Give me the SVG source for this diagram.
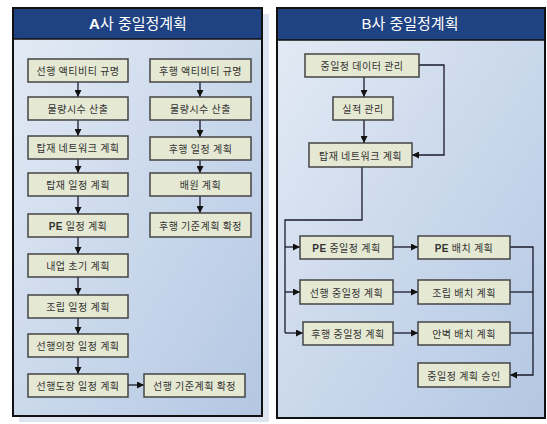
<svg xmlns="http://www.w3.org/2000/svg" width="547" height="424" viewBox="0 0 547 424">
<defs>
<linearGradient id="body" x1="0" y1="0" x2="1" y2="1">
<stop offset="0" stop-color="#e4ebf5"/>
<stop offset="1" stop-color="#b3c7e3"/>
</linearGradient>
<marker id="ah" viewBox="0 0 10 10" refX="10" refY="5" markerWidth="7" markerHeight="7" orient="auto" markerUnits="userSpaceOnUse">
<path d="M0,0 L10,5 L0,10 z" fill="#111"/>
</marker>
<style>
.panel{fill:url(#body);stroke:#111;stroke-width:2}
.head{fill:#1f4283}
.title{font-family:"Liberation Sans","Noto Sans CJK KR",sans-serif;font-size:15px;fill:#fff;text-anchor:middle}
.node rect{fill:#e5e8d2;stroke:#444;stroke-width:1.5}
.node text{font-family:"Noto Sans CJK KR","Noto Sans",sans-serif;font-size:10px;fill:#333;text-anchor:middle;dominant-baseline:central;letter-spacing:0.5px}
.c{fill:none;stroke:#1a1a2a;stroke-width:1.3}
.a{marker-end:url(#ah)}
</style>
</defs>
<rect width="547" height="424" fill="#fff"/>
<!-- Panel A -->
<g id="panelA">
<rect x="19" y="14" width="250" height="408" fill="#dfe5f0"/>
<rect class="panel" x="13" y="8" width="249" height="408"/>
<rect class="head" x="14" y="9" width="247" height="30"/>
<line x1="13" y1="39" x2="262" y2="39" stroke="#111" stroke-width="1.5"/>
<text class="title" x="138" y="29"><tspan font-weight="bold">A</tspan>사 중일정계획</text>
</g>
<!-- Panel B -->
<g id="panelB">
<rect class="panel" x="277" y="8" width="268" height="410"/>
<rect class="head" x="278" y="9" width="266" height="31"/>
<line x1="277" y1="40" x2="545" y2="40" stroke="#111" stroke-width="1.5"/>
<text class="title" x="410" y="29">B사 중일정계획</text>
</g>
<!-- Connectors -->
<g id="connectors">
<path class="c a" d="M78,82 V97"/>
<path class="c a" d="M78,120 V136"/>
<path class="c a" d="M78,159 V173"/>
<path class="c a" d="M78,196 V214"/>
<path class="c a" d="M78,237 V254"/>
<path class="c a" d="M78,277 V295"/>
<path class="c a" d="M78,318 V334"/>
<path class="c a" d="M78,357 V374"/>
<path class="c a" d="M128,385 H144"/>
<path class="c a" d="M200,82 V97"/>
<path class="c a" d="M200,120 V137"/>
<path class="c a" d="M200,160 V173"/>
<path class="c a" d="M200,196 V213"/>
<path class="c a" d="M364,77 V97"/>
<path class="c a" d="M364,120 V143"/>
<path class="c a" d="M419,65 H444 V155 H412"/>
<path class="c" d="M362,167 V220 H285 V333"/>
<path class="c a" d="M285,247 H300"/>
<path class="c a" d="M285,292 H300"/>
<path class="c a" d="M285,333 H303"/>
<path class="c a" d="M393,247 H418"/>
<path class="c a" d="M393,292 H418"/>
<path class="c a" d="M393,333 H418"/>
<path class="c a" d="M510,247 H533 V375 H510"/>
<path class="c" d="M510,292 H533"/>
<path class="c" d="M510,333 H533"/>
</g>
<!-- Nodes A left -->
<g id="a1" class="node"><rect x="28" y="59" width="100" height="23"/><text x="78" y="70.5">선행 액티비티 규명</text></g>
<g id="a2" class="node"><rect x="28" y="97" width="100" height="23"/><text x="78" y="108.5">물량시수 산출</text></g>
<g id="a3" class="node"><rect x="28" y="136" width="100" height="23"/><text x="78" y="147.5">탑재 네트워크 계획</text></g>
<g id="a4" class="node"><rect x="28" y="173" width="100" height="23"/><text x="78" y="184.5">탑재 일정 계획</text></g>
<g id="a5" class="node"><rect x="28" y="214" width="100" height="23"/><text x="78" y="225.5"><tspan font-weight="bold" font-family="Liberation Sans, sans-serif">PE</tspan> 일정 계획</text></g>
<g id="a6" class="node"><rect x="28" y="254" width="100" height="23"/><text x="78" y="265.5">내업 초기 계획</text></g>
<g id="a7" class="node"><rect x="28" y="295" width="100" height="23"/><text x="78" y="306.5">조립 일정 계획</text></g>
<g id="a8" class="node"><rect x="28" y="334" width="100" height="23"/><text x="78" y="345.5">선행의장 일정 계획</text></g>
<g id="a9" class="node"><rect x="28" y="374" width="100" height="23"/><text x="78" y="385.5">선행도장 일정 계획</text></g>
<g id="a10" class="node"><rect x="144" y="374" width="101" height="23"/><text x="194.5" y="385.5">선행 기준계획 확정</text></g>
<!-- Nodes A right -->
<g id="ar1" class="node"><rect x="150" y="59" width="101" height="23"/><text x="200.5" y="70.5">후행 액티비티 규명</text></g>
<g id="ar2" class="node"><rect x="150" y="97" width="101" height="23"/><text x="200.5" y="108.5">물량시수 산출</text></g>
<g id="ar3" class="node"><rect x="150" y="137" width="101" height="23"/><text x="200.5" y="148.5">후행 일정 계획</text></g>
<g id="ar4" class="node"><rect x="150" y="173" width="101" height="23"/><text x="200.5" y="184.5">배원 계획</text></g>
<g id="ar5" class="node"><rect x="150" y="213" width="101" height="24"/><text x="200.5" y="225">후행 기준계획 확정</text></g>
<!-- Nodes B -->
<g id="b1" class="node"><rect x="305" y="54" width="114" height="23"/><text x="362" y="65.5">중일정 데이터 관리</text></g>
<g id="b2" class="node"><rect x="333" y="97" width="60" height="23"/><text x="363" y="108.5">실적 관리</text></g>
<g id="b3" class="node"><rect x="309" y="143" width="103" height="24"/><text x="360.5" y="155">탑재 네트워크 계획</text></g>
<g id="b4" class="node"><rect x="300" y="236" width="93" height="23"/><text x="346.5" y="247.5"><tspan font-weight="bold" font-family="Liberation Sans, sans-serif">PE</tspan> 중일정 계획</text></g>
<g id="b5" class="node"><rect x="418" y="236" width="92" height="23"/><text x="464" y="247.5"><tspan font-weight="bold" font-family="Liberation Sans, sans-serif">PE</tspan> 배치 계획</text></g>
<g id="b6" class="node"><rect x="300" y="280" width="93" height="24"/><text x="346.5" y="292">선행 중일정 계획</text></g>
<g id="b7" class="node"><rect x="418" y="280" width="92" height="24"/><text x="464" y="292">조립 배치 계획</text></g>
<g id="b8" class="node"><rect x="303" y="322" width="90" height="23"/><text x="348" y="333.5">후행 중일정 계획</text></g>
<g id="b9" class="node"><rect x="418" y="322" width="92" height="23"/><text x="464" y="333.5">안벽 배치 계획</text></g>
<g id="b10" class="node"><rect x="418" y="363" width="92" height="24"/><text x="464" y="375">중일정 계획 승인</text></g>
</svg>
